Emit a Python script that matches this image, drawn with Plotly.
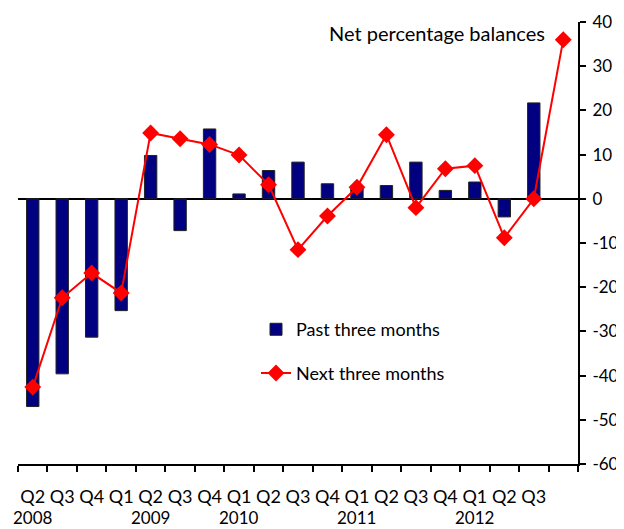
import plotly.graph_objects as go

quarters = ["Q2 2008", "Q3 2008", "Q4 2008", "Q1 2009", "Q2 2009", "Q3 2009", "Q4 2009",
            "Q1 2010", "Q2 2010", "Q3 2010", "Q4 2010", "Q1 2011", "Q2 2011", "Q3 2011",
            "Q4 2011", "Q1 2012", "Q2 2012", "Q3 2012", "Q4 2012"]
quarter_labels = ["Q2", "Q3", "Q4", "Q1", "Q2", "Q3", "Q4", "Q1", "Q2", "Q3", "Q4",
                  "Q1", "Q2", "Q3", "Q4", "Q1", "Q2", "Q3", ""]
year_labels = {"Q2 2008": "2008", "Q2 2009": "2009", "Q1 2010": "2010",
               "Q1 2011": "2011", "Q1 2012": "2012"}

past_three_months = [-47.0, -39.6, -31.3, -25.3, 9.8, -7.2, 15.8, 1.1, 6.4, 8.3, 3.4,
                     2.6, 3.0, 8.3, 1.9, 3.8, -4.1, 21.7, None]
next_three_months = [-42.6, -22.4, -16.8, -21.3, 14.9, 13.6, 12.3, 9.9, 3.2, -11.5, -3.9,
                     2.6, 14.5, -2.0, 6.8, 7.5, -8.8, 0.0, 36.0]

y_ticks = [40, 30, 20, 10, 0, -10, -20, -30, -40, -50, -60]
y_ticktext = ["40", "30", "20", "10", "0", "-10", "-20", "-30", "-40", "-50", "-60"]

FONT = "Lato"
FS = 18

fig = go.Figure()
fig.add_trace(go.Bar(
    x=quarters, y=past_three_months, name="Past three months",
    marker=dict(color="#000080", line=dict(color="#222222", width=1)),
    width=0.42, legend="legend", showlegend=True,
))
fig.add_trace(go.Scatter(
    x=quarters, y=next_three_months, name="Next three months", mode="lines+markers",
    line=dict(color="#ff0000", width=2),
    marker=dict(symbol="diamond", size=13, color="#ff0000"),
    legend="legend2", showlegend=True,
))

annotations = [dict(text="Net percentage balances", xref="paper", yref="paper",
                    x=0.945, y=0.975, xanchor="right", yanchor="middle",
                    showarrow=False, font=dict(family=FONT, size=20, color="black"))]
for q, yr in year_labels.items():
    annotations.append(dict(text=yr, xref="x", yref="paper", x=q, y=-0.12,
                            xanchor="center", yanchor="middle", showarrow=False,
                            font=dict(family=FONT, size=17, color="black")))

fig.update_layout(
    width=616, height=521,
    margin=dict(l=10, r=46, t=14, b=65, autoexpand=False),
    paper_bgcolor="white", plot_bgcolor="white",
    font=dict(family=FONT, size=FS, color="black"),
    bargap=0.58,
    annotations=annotations,
    legend=dict(x=0.425, y=0.346, xanchor="left", yanchor="top",
                bgcolor="rgba(0,0,0,0)", font=dict(family=FONT, size=FS)),
    legend2=dict(x=0.425, y=0.247, xanchor="left", yanchor="top",
                 bgcolor="rgba(0,0,0,0)", font=dict(family=FONT, size=FS)),
    xaxis=dict(type="category", categoryorder="array", categoryarray=quarters,
               tickvals=quarters, ticktext=quarter_labels, tickangle=0, automargin=False,
               showline=True, linecolor="black", linewidth=2,
               ticks="outside", tickson="boundaries", ticklen=6, tickcolor="black",
               tickwidth=1.5, showgrid=False, ticklabelstandoff=15,
               range=[-0.5, 18.5]),
    yaxis=dict(side="right", range=[-60, 40], tickvals=y_ticks, ticktext=y_ticktext,
               automargin=False, tickfont=dict(family=FONT, size=17),
               showline=True, linecolor="black", linewidth=2,
               ticks="outside", ticklen=6, tickcolor="black", tickwidth=1.5,
               showgrid=False, zeroline=True, zerolinecolor="black", zerolinewidth=1.5,
               ticklabelstandoff=3),
)

fig.write_html("out.html")
